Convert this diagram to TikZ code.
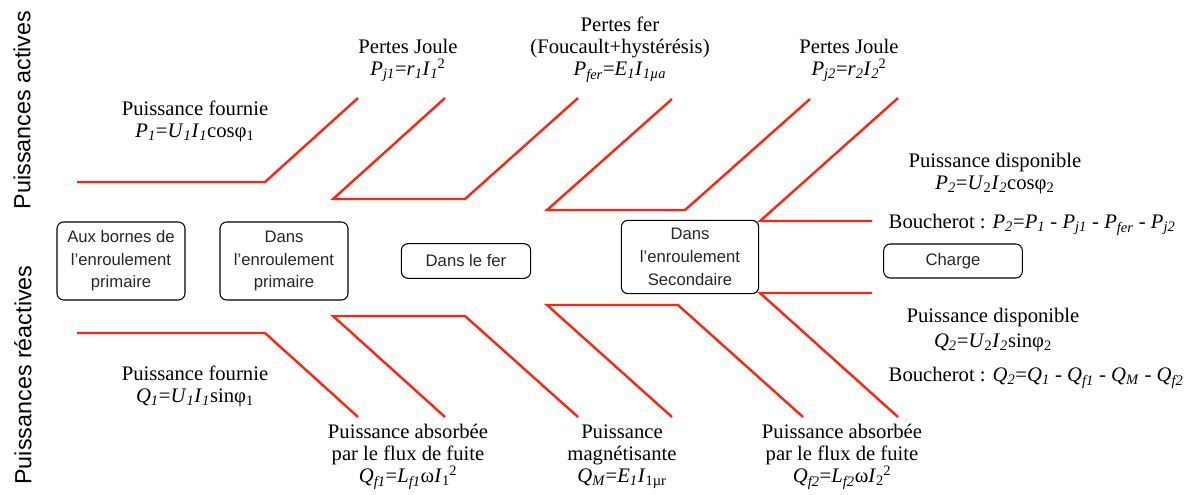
\documentclass[tikz,border=0pt]{standalone}
\usepackage{fontspec}
\setmainfont{Liberation Serif}
\setsansfont{Liberation Sans}
\usepackage{tikz}
\usepackage{xcolor}

\definecolor{rouge}{RGB}{255,35,20}

% indices en italique
\newcommand{\ind}[2]{\textit{#1}\textsubscript{\textit{#2}}}
\newcommand{\indsq}[3]{\textit{#1}\textsubscript{#2}\kern-0.5pt\textsuperscript{#3}}

\begin{document}
\begin{tikzpicture}[
    x=0.75pt, y=-0.75pt,
    arete/.style={rouge, line width=1.8pt, line join=miter},
    boite/.style={draw, thick, rounded corners=5pt, align=center, inner sep=0pt,
        text=black!85, font=\sffamily\fontsize{12.5}{17}\selectfont},
    etiq/.style={align=center, font=\fontsize{15.5}{16.5}\selectfont},
    axe/.style={rotate=90, font=\sffamily\fontsize{17.5}{20}\selectfont}
]

\useasboundingbox (0,0) rectangle (1198,495);

% ---------------- AXES ----------------

\node[axe] (actives) at (22,110) {Puissances actives};
\node[axe] (reactives) at (23,375) {Puissances réactives};

% ---------------- BOITES ----------------

\node[
    boite,
    minimum width=96pt,
    minimum height=58.5pt
] (bornes) at (121,261) {Aux bornes de\\l'enroulement\\primaire};

\node[
    boite,
    minimum width=96pt,
    minimum height=58.5pt
] (prim) at (284,261) {Dans\\l'enroulement\\primaire};

\node[
    boite,
    minimum width=97pt,
    minimum height=26pt
] (fer) at (466,261) {Dans le fer};

\node[
    boite,
    minimum width=103pt,
    minimum height=55pt
] (sec) at (690,257) {Dans\\l'enroulement\\Secondaire};

\node[
    boite,
    minimum width=104pt,
    minimum height=25.5pt
] (charge) at (953,261) {Charge};

% ---------------- PUISSANCES ACTIVES ----------------

% Puissance fournie
\draw[arete] (77,182) -- (265,182) -- (358,98);

% Pertes Joule primaire
\draw[arete] (445,98) -- (333,199) -- (465,199) -- (578,98);

% Pertes fer
\draw[arete] (672,99) -- (547,210) -- (685,210) -- (810,99);

% Pertes Joule secondaire
\draw[arete] (898,98) -- (760,221) -- (872,221);

\node[etiq] (pfournie) at (195,121)
    {Puissance fournie\\\ind{P}{1}=\ind{U}{1}\ind{I}{1}cosφ\textsubscript{1}};

\node[etiq] (pjoule1) at (408,60)
    {Pertes Joule\\\ind{P}{j1}=\ind{r}{1}\indsq{I}{\textit{1}}{2}};

\node[etiq] (pfer) at (620,50)
    {Pertes fer\\(Foucault+hystérésis)\\\ind{P}{fer}=\ind{E}{1}\ind{I}{1µa}};

\node[etiq] (pjoule2) at (849,60)
    {Pertes Joule\\\ind{P}{j2}=\ind{r}{2}\indsq{I}{\textit{2}}{2}};

\node[etiq] (pdispo) at (995,174)
    {Puissance disponible\\\ind{P}{2}=\textit{U}\textsubscript{2}\ind{I}{2}cosφ\textsubscript{2}};

\node[etiq, anchor=west] (bouchP) at (884,225)
    {Boucherot : \ind{P}{2}=\ind{P}{1} - \ind{P}{j1} - \ind{P}{fer} - \ind{P}{j2}};

% ---------------- PUISSANCES REACTIVES ----------------

% Puissance fournie
\draw[arete] (77,333) -- (265,333) -- (358,417);

% Flux de fuite primaire
\draw[arete] (445,417) -- (333,316) -- (465,316) -- (578,417);

% Magnetisation
\draw[arete] (672,417) -- (547,305) -- (678,305) -- (803,417);

% Flux de fuite secondaire
\draw[arete] (898,417) -- (760,293) -- (872,293);

\node[etiq] (qfournie) at (195,386)
    {Puissance fournie\\\ind{Q}{1}=\ind{U}{1}\ind{I}{1}sinφ\textsubscript{1}};

\node[etiq] (qfuite1) at (408,457)
    {Puissance absorbée\\par le flux de fuite\\\ind{Q}{f1}=\ind{L}{f1}ω\indsq{I}{1}{2}};

\node[etiq] (qmagn) at (622,457)
    {Puissance\\magnétisante\\\ind{Q}{M}=\ind{E}{1}\textit{I}\textsubscript{1µr}};

\node[etiq] (qfuite2) at (842,457)
    {Puissance absorbée\\par le flux de fuite\\\ind{Q}{f2}=\ind{L}{f2}ω\indsq{I}{2}{2}};

\node[etiq] (qdispo) at (993,330)
    {Puissance disponible\\[2pt]\ind{Q}{2}=\textit{U}\textsubscript{2}\ind{I}{2}sinφ\textsubscript{2}};

\node[etiq, anchor=west] (bouchQ) at (884,378)
    {Boucherot : \ind{Q}{2}=\ind{Q}{1} - \ind{Q}{f1} - \ind{Q}{M} - \ind{Q}{f2}};

\end{tikzpicture}
\end{document}
